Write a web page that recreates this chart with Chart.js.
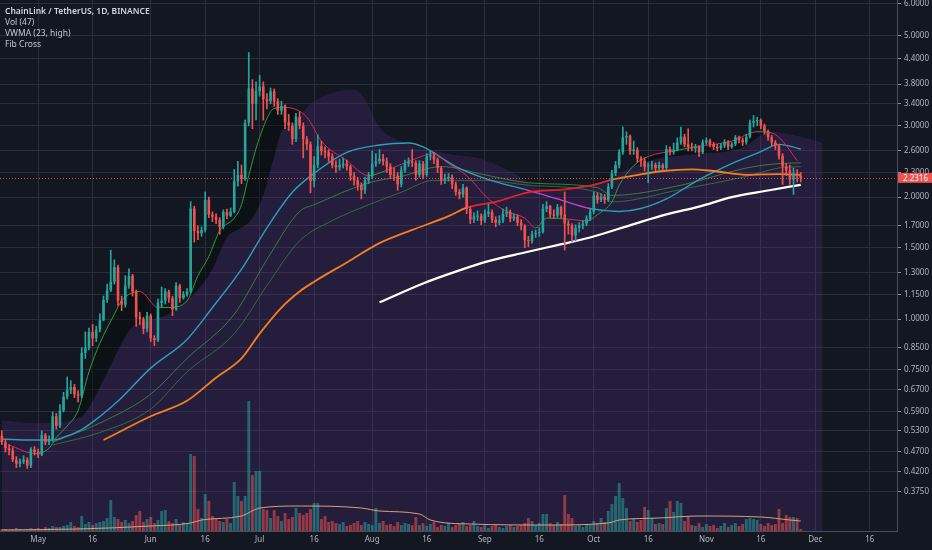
<!DOCTYPE html>
<html>
<head>
<meta charset="utf-8">
<title>ChainLink / TetherUS, 1D, BINANCE</title>
<script src="https://cdn.jsdelivr.net/npm/chart.js@4.4.1/dist/chart.umd.min.js"></script>
<style>
  html, body { margin: 0; padding: 0; background: #131722; }
  #box { position: relative; width: 932px; height: 550px; overflow: hidden; }
  #legend { position: absolute; left: 5px; top: 5px; font-family: 'Noto Sans', sans-serif; font-size: 8.5px; line-height: 11px; color: #c3c6ce; pointer-events: none; }
  #legend div:first-child { font-weight: 600; color: #d1d4dc; }
</style>
</head>
<body>
<div id="box">
  <canvas id="chart" width="932" height="550"></canvas>
  <div id="legend">
    <div>ChainLink / TetherUS, 1D, BINANCE</div>
    <div>Vol (47)</div>
    <div>VWMA (23, high)</div>
    <div>Fib Cross</div>
  </div>
</div>
<script>
// daily slots from 2019-04-21, including the empty days on the right
const startDate = Date.UTC(2019, 3, 21);
const dayCount = 247;
const labels = [];
for (let i = 0; i < dayCount; i++) {
  labels.push(new Date(startDate + i * 864e5).toISOString().slice(0, 10));
}

const dateTicks = [
  ['2019-05-01', 'May'], ['2019-05-16', '16'], ['2019-06-01', 'Jun'], ['2019-06-16', '16'],
  ['2019-07-01', 'Jul'], ['2019-07-16', '16'], ['2019-08-01', 'Aug'], ['2019-08-16', '16'],
  ['2019-09-01', 'Sep'], ['2019-09-16', '16'], ['2019-10-01', 'Oct'], ['2019-10-16', '16'],
  ['2019-11-01', 'Nov'], ['2019-11-16', '16'], ['2019-12-01', 'Dec'], ['2019-12-16', '16']
];
const priceTicks = [0.375, 0.42, 0.47, 0.53, 0.59, 0.67, 0.75, 0.85, 1.0, 1.15, 1.3, 1.5,
  1.7, 2.0, 2.3, 2.6, 3.0, 3.4, 3.8, 4.4, 5.0, 6.0];

// candles (open of a day = close of the previous day)
const firstOpen = 0.515;
const closes = [
  0.497, 0.480, 0.475, 0.450, 0.440, 0.445, 0.450, 0.435, 0.477, 0.470,
  0.463, 0.517, 0.497, 0.505, 0.576, 0.545, 0.595, 0.643, 0.670, 0.680,
  0.653, 0.647, 0.826, 0.850, 0.930, 0.897, 0.942, 0.995, 1.115, 1.178,
  1.237, 1.343, 1.110, 1.085, 1.210, 1.279, 1.170, 1.010, 1.000, 0.947,
  1.020, 0.897, 0.887, 1.097, 1.110, 1.170, 1.128, 1.056, 1.210, 1.128,
  1.152, 1.170, 1.874, 1.650, 1.630, 1.660, 1.970, 1.810, 1.790, 1.760,
  1.690, 1.840, 1.800, 1.840, 2.190, 2.270, 2.220, 3.050, 3.710, 3.400,
  3.650, 3.750, 3.490, 3.450, 3.650, 3.450, 3.270, 3.360, 3.060, 3.000,
  2.780, 3.160, 3.000, 2.780, 2.700, 2.190, 2.400, 2.670, 2.600, 2.580,
  2.520, 2.400, 2.370, 2.400, 2.420, 2.380, 2.260, 2.200, 2.140, 2.080,
  2.200, 2.250, 2.420, 2.450, 2.490, 2.450, 2.380, 2.270, 2.260, 2.150,
  2.330, 2.420, 2.450, 2.430, 2.270, 2.420, 2.270, 2.520, 2.530, 2.480,
  2.360, 2.200, 2.230, 2.240, 2.150, 2.060, 2.030, 2.110, 1.870, 1.760,
  1.790, 1.800, 1.750, 1.820, 1.840, 1.760, 1.730, 1.750, 1.820, 1.840,
  1.770, 1.790, 1.730, 1.700, 1.565, 1.560, 1.620, 1.630, 1.640, 1.870,
  1.900, 1.810, 1.800, 1.890, 1.810, 1.720, 1.700, 1.610, 1.680, 1.700,
  1.720, 1.770, 1.840, 2.020, 1.970, 2.000, 1.970, 2.120, 2.290, 2.400,
  2.580, 2.810, 2.830, 2.600, 2.620, 2.490, 2.460, 2.380, 2.390, 2.400,
  2.360, 2.400, 2.360, 2.630, 2.580, 2.620, 2.730, 2.820, 2.700, 2.660,
  2.640, 2.660, 2.580, 2.730, 2.760, 2.700, 2.660, 2.640, 2.680, 2.740,
  2.660, 2.700, 2.810, 2.770, 2.730, 2.820, 3.050, 3.080, 3.100, 3.000,
  2.910, 2.810, 2.730, 2.680, 2.530, 2.380, 2.330, 2.210, 2.290, 2.260, 2.2316
];
const highs = [
  0.53, 0.505, 0.49, 0.482, 0.458, 0.452, 0.46, 0.455, 0.482, 0.485,
  0.478, 0.53, 0.522, 0.515, 0.59, 0.585, 0.615, 0.66, 0.72, 0.705,
  0.69, 0.665, 0.85, 0.93, 0.95, 0.97, 0.96, 1.03, 1.14, 1.22,
  1.48, 1.40, 1.36, 1.14, 1.28, 1.33, 1.29, 1.18, 1.04, 1.01,
  1.04, 1.03, 0.91, 1.12, 1.20, 1.19, 1.18, 1.14, 1.23, 1.22,
  1.17, 1.19, 1.95, 1.90, 1.70, 1.69, 2.06, 2.00, 1.84, 1.82,
  1.78, 1.86, 1.87, 1.88, 2.34, 2.45, 2.40, 3.10, 4.55, 3.90,
  3.85, 4.00, 3.85, 3.60, 3.72, 3.70, 3.50, 3.45, 3.38, 3.20,
  3.05, 3.22, 3.25, 3.05, 2.82, 2.74, 2.52, 2.85, 2.75, 2.66,
  2.62, 2.56, 2.46, 2.48, 2.50, 2.47, 2.40, 2.30, 2.24, 2.17,
  2.24, 2.30, 2.60, 2.56, 2.62, 2.55, 2.50, 2.42, 2.36, 2.30,
  2.38, 2.47, 2.50, 2.62, 2.46, 2.46, 2.45, 2.56, 2.60, 2.58,
  2.50, 2.38, 2.28, 2.29, 2.27, 2.18, 2.09, 2.15, 2.12, 1.89,
  1.83, 1.85, 1.82, 1.86, 1.92, 1.86, 1.79, 1.80, 1.87, 1.89,
  1.86, 1.82, 1.81, 1.76, 1.71, 1.60, 1.65, 1.66, 1.68, 1.92,
  1.95, 1.91, 1.86, 1.92, 1.90, 2.06, 1.75, 1.72, 1.71, 1.73,
  1.75, 1.80, 1.87, 2.06, 2.05, 2.04, 2.03, 2.16, 2.33, 2.45,
  2.62, 2.98, 2.90, 2.85, 2.75, 2.65, 2.52, 2.50, 2.43, 2.45,
  2.43, 2.44, 2.42, 2.68, 2.66, 2.72, 2.80, 2.98, 2.86, 2.95,
  2.72, 2.70, 2.68, 2.77, 2.80, 2.78, 2.73, 2.70, 2.71, 2.77,
  2.76, 2.73, 2.84, 2.83, 2.80, 2.86, 3.10, 3.18, 3.15, 3.12,
  3.03, 2.93, 2.84, 2.76, 2.70, 2.56, 2.42, 2.40, 2.36, 2.34, 2.30
];
const lows = [
  0.49, 0.47, 0.462, 0.445, 0.43, 0.432, 0.44, 0.428, 0.43, 0.462,
  0.455, 0.46, 0.49, 0.49, 0.50, 0.535, 0.54, 0.59, 0.635, 0.655,
  0.64, 0.625, 0.64, 0.80, 0.84, 0.86, 0.88, 0.93, 0.99, 1.10,
  1.17, 1.22, 1.08, 1.05, 1.07, 1.19, 1.14, 0.96, 0.97, 0.92,
  0.93, 0.88, 0.86, 0.88, 1.07, 1.09, 1.10, 1.02, 1.05, 1.10,
  1.12, 1.14, 1.16, 1.55, 1.57, 1.60, 1.64, 1.78, 1.74, 1.72,
  1.62, 1.67, 1.77, 1.79, 1.83, 2.13, 2.16, 2.20, 3.00, 2.95,
  3.10, 3.55, 3.10, 3.30, 3.40, 3.35, 3.20, 3.20, 2.95, 2.92,
  2.70, 2.74, 2.95, 2.50, 2.62, 2.05, 2.12, 2.36, 2.54, 2.50,
  2.45, 2.36, 2.30, 2.33, 2.36, 2.33, 2.20, 2.14, 2.08, 1.98,
  2.04, 2.16, 2.22, 2.38, 2.42, 2.40, 2.30, 2.22, 2.20, 2.08,
  2.12, 2.30, 2.38, 2.38, 2.20, 2.24, 2.22, 2.25, 2.47, 2.42,
  2.30, 2.15, 2.16, 2.19, 2.10, 2.02, 1.98, 2.00, 1.82, 1.72,
  1.73, 1.75, 1.71, 1.73, 1.79, 1.73, 1.69, 1.71, 1.73, 1.79,
  1.74, 1.75, 1.70, 1.66, 1.50, 1.51, 1.54, 1.59, 1.60, 1.63,
  1.84, 1.78, 1.77, 1.78, 1.78, 1.48, 1.62, 1.55, 1.56, 1.64,
  1.67, 1.70, 1.75, 1.82, 1.93, 1.95, 1.93, 1.95, 2.10, 2.26,
  2.36, 2.55, 2.70, 2.55, 2.55, 2.44, 2.38, 2.32, 2.17, 2.34,
  2.32, 2.33, 2.32, 2.34, 2.54, 2.55, 2.60, 2.70, 2.66, 2.60,
  2.60, 2.58, 2.52, 2.56, 2.70, 2.66, 2.62, 2.60, 2.62, 2.65,
  2.62, 2.64, 2.68, 2.72, 2.68, 2.70, 2.80, 2.98, 3.00, 2.95,
  2.86, 2.76, 2.68, 2.62, 2.48, 2.15, 2.26, 2.15, 2.03, 2.18, 2.18
];
// volume, in pixel-sized units of the hidden volume axis
const volumes = [
  2, 2, 1, 2, 3, 2, 1, 2, 3, 2,
  3, 2, 4, 3, 5, 4, 4, 5, 6, 9,
  5, 4, 15, 7, 9, 6, 8, 9, 10, 13,
  31, 14, 12, 9, 11, 8, 10, 16, 20, 9,
  12, 14, 8, 11, 20, 21, 10, 8, 12, 7,
  9, 8, 77, 75, 22, 13, 37, 30, 15, 12,
  10, 9, 12, 8, 49, 35, 30, 35, 130, 56,
  60, 60, 22, 21, 13, 21, 15, 10, 18, 12,
  14, 23, 18, 16, 18, 22, 28, 28, 12, 15,
  9, 10, 8, 7, 9, 5, 6, 8, 10, 6,
  9, 7, 6, 23, 8, 10, 6, 7, 5, 9,
  6, 8, 7, 6, 14, 6, 8, 5, 7, 9,
  4, 6, 5, 8, 4, 6, 7, 9, 5, 6,
  10, 5, 4, 6, 3, 5, 6, 4, 3, 5,
  6, 4, 5, 6, 8, 13, 10, 6, 8, 17,
  17, 8, 6, 9, 7, 36, 17, 13, 5, 6,
  4, 7, 6, 10, 8, 13, 9, 20, 27, 35,
  48, 33, 23, 10, 12, 9, 11, 24, 21, 13,
  7, 8, 7, 23, 30, 19, 30, 28, 10, 15,
  6, 5, 8, 4, 7, 5, 6, 3, 5, 8,
  4, 6, 8, 5, 7, 12, 13, 12, 11, 7,
  5, 8, 6, 7, 22, 8, 16, 14, 14, 13, 2
];

// indicator lines: [day index, value]
const volumeMa = [[0, 1], [21, 2], [41, 5], [52, 8], [55, 11], [66, 15], [71, 23], [82, 25],
  [99, 23], [104, 20], [115, 17], [118, 11], [129, 7], [151, 6], [167, 8], [170, 11],
  [181, 13], [192, 15], [209, 14], [217, 11], [220, 10]];
const cloudTop = [[0, 0.563], [10, 0.554], [22, 0.576], [27, 0.679], [30, 0.769], [33, 0.872],
  [36, 0.957], [41, 0.995], [46, 1.028], [51, 1.11], [55, 1.21], [58, 1.328], [62, 1.59],
  [66, 1.68], [69, 1.775], [72, 2.02], [75, 2.52], [77, 2.90], [80, 3.01], [85, 3.40],
  [90, 3.59], [97, 3.69], [100, 3.49], [104, 2.98], [110, 2.75], [123, 2.56], [132, 2.49],
  [141, 2.29], [148, 2.11], [157, 2.09], [165, 2.17], [173, 2.36], [181, 2.49], [192, 2.56],
  [203, 2.63], [212, 2.90], [220, 2.82], [226, 2.73]];
const vwma = [[0, 0.506], [8, 0.503], [14, 0.503], [18, 0.515], [22, 0.534], [27, 0.575],
  [32, 0.628], [41, 0.757], [51, 0.891], [58, 1.068], [66, 1.328], [73, 1.68], [80, 2.056],
  [86, 2.29], [95, 2.58], [104, 2.69], [112, 2.72], [116, 2.66], [125, 2.38], [134, 2.21],
  [144, 2.09], [153, 1.98], [162, 1.875], [170, 1.844], [176, 1.875], [183, 1.98],
  [192, 2.21], [201, 2.42], [209, 2.59], [214, 2.70], [220, 2.63]];
const fibFast = [[2, 0.489], [9, 0.466], [13, 0.48], [15, 0.51], [18, 0.545], [21, 0.595],
  [24, 0.741], [27, 0.872], [31, 1.028], [33, 1.11], [38, 1.17], [43, 1.068], [46, 1.068],
  [51, 1.11], [54, 1.279], [57, 1.426], [60, 1.653], [64, 1.775], [66, 1.915], [68, 2.26],
  [71, 2.81], [75, 3.31], [78, 3.33], [84, 3.15], [88, 2.75], [95, 2.46], [101, 2.26],
  [106, 2.33], [112, 2.45], [119, 2.56], [123, 2.42], [128, 2.26], [134, 1.98], [139, 1.844],
  [144, 1.775], [147, 1.68], [150, 1.775], [156, 1.765], [161, 1.746], [164, 1.81],
  [168, 1.947], [170, 2.14], [174, 2.39], [178, 2.52], [185, 2.60], [191, 2.66], [201, 2.75],
  [208, 2.90], [212, 2.88], [215, 2.75], [219, 2.46]];
const fibMid = [[14, 0.497], [27, 0.554], [41, 0.653], [51, 0.80], [64, 1.028], [73, 1.403],
  [82, 1.844], [86, 1.915], [101, 2.17], [110, 2.25], [121, 2.38], [133, 2.27], [145, 2.17],
  [164, 2.11], [168, 2.02], [187, 2.14], [205, 2.36], [214, 2.42], [220, 2.43]];
const fibSlow = [[14, 0.489], [27, 0.525], [41, 0.60], [51, 0.741], [64, 0.921], [73, 1.21],
  [82, 1.56], [91, 1.75], [101, 1.915], [110, 2.056], [119, 2.20], [133, 2.20], [145, 2.14],
  [164, 2.056], [168, 1.947], [187, 2.09], [205, 2.25], [214, 2.36], [220, 2.38]];
const fibLong = [[28, 0.503], [41, 0.576], [51, 0.629], [59, 0.717], [66, 0.80], [71, 0.921],
  [77, 1.068], [82, 1.17], [86, 1.237], [95, 1.38], [104, 1.54], [113, 1.66], [123, 1.795],
  [128, 1.885], [136, 1.947], [145, 2.056], [155, 2.09], [163, 2.145], [168, 2.21],
  [174, 2.26], [182, 2.32], [190, 2.343], [196, 2.32], [205, 2.27], [214, 2.28], [220, 2.27]];
const trendLine = [[104, 1.10], [116, 1.225], [125, 1.31], [134, 1.39], [144, 1.46],
  [153, 1.523], [162, 1.59], [174, 1.716], [183, 1.813], [192, 1.895],
  [201, 2.00], [211, 2.077], [220, 2.145]];
const vwmaMagentaDays = [146, 164];
const longRedDays = [128, 168];

const UP = '#26a69a', DOWN = '#ef5350';
const GRID = '#2a2e3a', AXIS = '#4a4e5a', TXT = '#b2b5be';

const opens = closes.map((c, i) => (i === 0 ? firstOpen : closes[i - 1]));
const candleColors = closes.map((c, i) => (c >= opens[i] ? UP : DOWN));
const volColors = closes.map((c, i) => (c >= opens[i] ? 'rgba(38,166,154,0.55)' : 'rgba(239,83,80,0.55)'));
const lastClose = closes[closes.length - 1];
const tickMap = Object.fromEntries(dateTicks);
const pts = arr => arr.map(([d, v]) => ({ x: labels[d], y: v }));

const inRange = (range, a, b) => {
  const mid = (a + b) / 2;
  return mid >= range[0] && mid <= range[1];
};

const priceTag = {
  id: 'priceTag',
  afterDatasetsDraw(chart) {
    const { ctx, chartArea } = chart;
    const y = Math.round(chart.scales.y.getPixelForValue(lastClose)) + 0.5;
    ctx.save();
    ctx.strokeStyle = 'rgba(239,83,80,0.9)';
    ctx.lineWidth = 1;
    ctx.setLineDash([1, 2]);
    ctx.beginPath();
    ctx.moveTo(chartArea.left, y);
    ctx.lineTo(chartArea.right, y);
    ctx.stroke();
    ctx.restore();
  },
  afterDraw(chart) {
    const { ctx, chartArea } = chart;
    const y = chart.scales.y.getPixelForValue(lastClose);
    ctx.save();
    ctx.fillStyle = DOWN;
    ctx.fillRect(chartArea.right + 1, y - 5, chart.width - chartArea.right - 1, 10);
    ctx.fillStyle = '#ffffff';
    ctx.font = "8px 'Noto Sans', sans-serif";
    ctx.textBaseline = 'middle';
    ctx.fillText(lastClose.toFixed(4), chartArea.right + 6, y + 0.5);
    ctx.restore();
  }
};

const line = (data, color, width, order, extra) => Object.assign({
  type: 'line', data: pts(data), borderColor: color, borderWidth: width,
  pointRadius: 0, fill: false, cubicInterpolationMode: 'monotone', order: order
}, extra || {});

new Chart(document.getElementById('chart'), {
  type: 'bar',
  data: {
    labels: labels,
    datasets: [
      line(cloudTop, 'rgba(0,0,0,0)', 0, 30, { fill: 'start', backgroundColor: 'rgba(110,52,160,0.21)' }),
      {
        type: 'bar', yAxisID: 'yv', data: volumes, backgroundColor: volColors,
        grouped: false, barPercentage: 0.8, categoryPercentage: 1, order: 29
      },
      line(volumeMa, '#d9a27a', 1, 28, { yAxisID: 'yv' }),
      line(fibSlow, 'rgba(56,120,60,0.85)', 1, 27),
      line(fibMid, 'rgba(60,135,60,0.9)', 1, 26),
      line(vwma, '#2c9fba', 1.4, 25, {
        segment: { borderColor: c => (inRange(vwmaMagentaDays, c.p0.parsed.x, c.p1.parsed.x) ? '#cc3fd6' : undefined) }
      }),
      line(fibLong, '#f57f20', 1.8, 24, {
        segment: { borderColor: c => (inRange(longRedDays, c.p0.parsed.x, c.p1.parsed.x) ? '#e8232f' : undefined) }
      }),
      line(trendLine, '#ffffff', 2.2, 23),
      line(fibFast, '#2f9d3c', 1, 22, {
        fill: { target: 0, above: 'rgba(2,10,6,0.42)', below: 'rgba(0,0,0,0)' },
        segment: {
          borderColor: c => {
            const d = Math.round((c.p0.parsed.x + c.p1.parsed.x) / 2);
            const v = (c.p0.parsed.y + c.p1.parsed.y) / 2;
            return v > closes[d] ? '#d9285a' : '#2f9d3c';
          }
        }
      }),
      {
        type: 'bar', data: closes.map((c, i) => [lows[i], highs[i]]),
        backgroundColor: candleColors, grouped: false, barThickness: 1, order: 2
      },
      {
        type: 'bar', data: closes.map((c, i) => [opens[i], c]),
        backgroundColor: candleColors, grouped: false, barPercentage: 0.72,
        categoryPercentage: 1, minBarLength: 1, order: 1
      }
    ]
  },
  options: {
    responsive: false,
    animation: false,
    devicePixelRatio: 1,
    layout: { padding: 0 },
    plugins: { legend: { display: false }, tooltip: { enabled: false } },
    scales: {
      x: {
        type: 'category',
        offset: true,
        grid: {
          offset: false,
          drawTicks: false,
          color: c => (tickMap[labels[c.index]] ? GRID : 'rgba(0,0,0,0)')
        },
        border: { color: AXIS },
        ticks: {
          autoSkip: false, maxRotation: 0, minRotation: 0, padding: 4,
          color: TXT, font: { family: "'Noto Sans', sans-serif", size: 8 },
          callback: (v, i) => tickMap[labels[i]] || ''
        },
        afterFit: s => { s.height = 19; s.paddingLeft = 0; s.paddingRight = 0; }
      },
      y: {
        type: 'logarithmic',
        position: 'right',
        min: 0.3373,
        max: 6.131,
        afterBuildTicks: s => { s.ticks = priceTicks.map(v => ({ value: v })); },
        afterFit: s => { s.width = 35; s.paddingTop = 0; s.paddingBottom = 0; },
        grid: { color: GRID, tickColor: '#8a8d96', tickLength: 4 },
        border: { color: AXIS },
        ticks: {
          padding: 3, color: TXT, font: { family: "'Noto Sans', sans-serif", size: 8 },
          callback: v => Number(v).toFixed(4)
        }
      },
      yv: { type: 'linear', display: false, min: 0, max: 531 }
    }
  },
  plugins: [priceTag]
});
</script>
</body>
</html>
